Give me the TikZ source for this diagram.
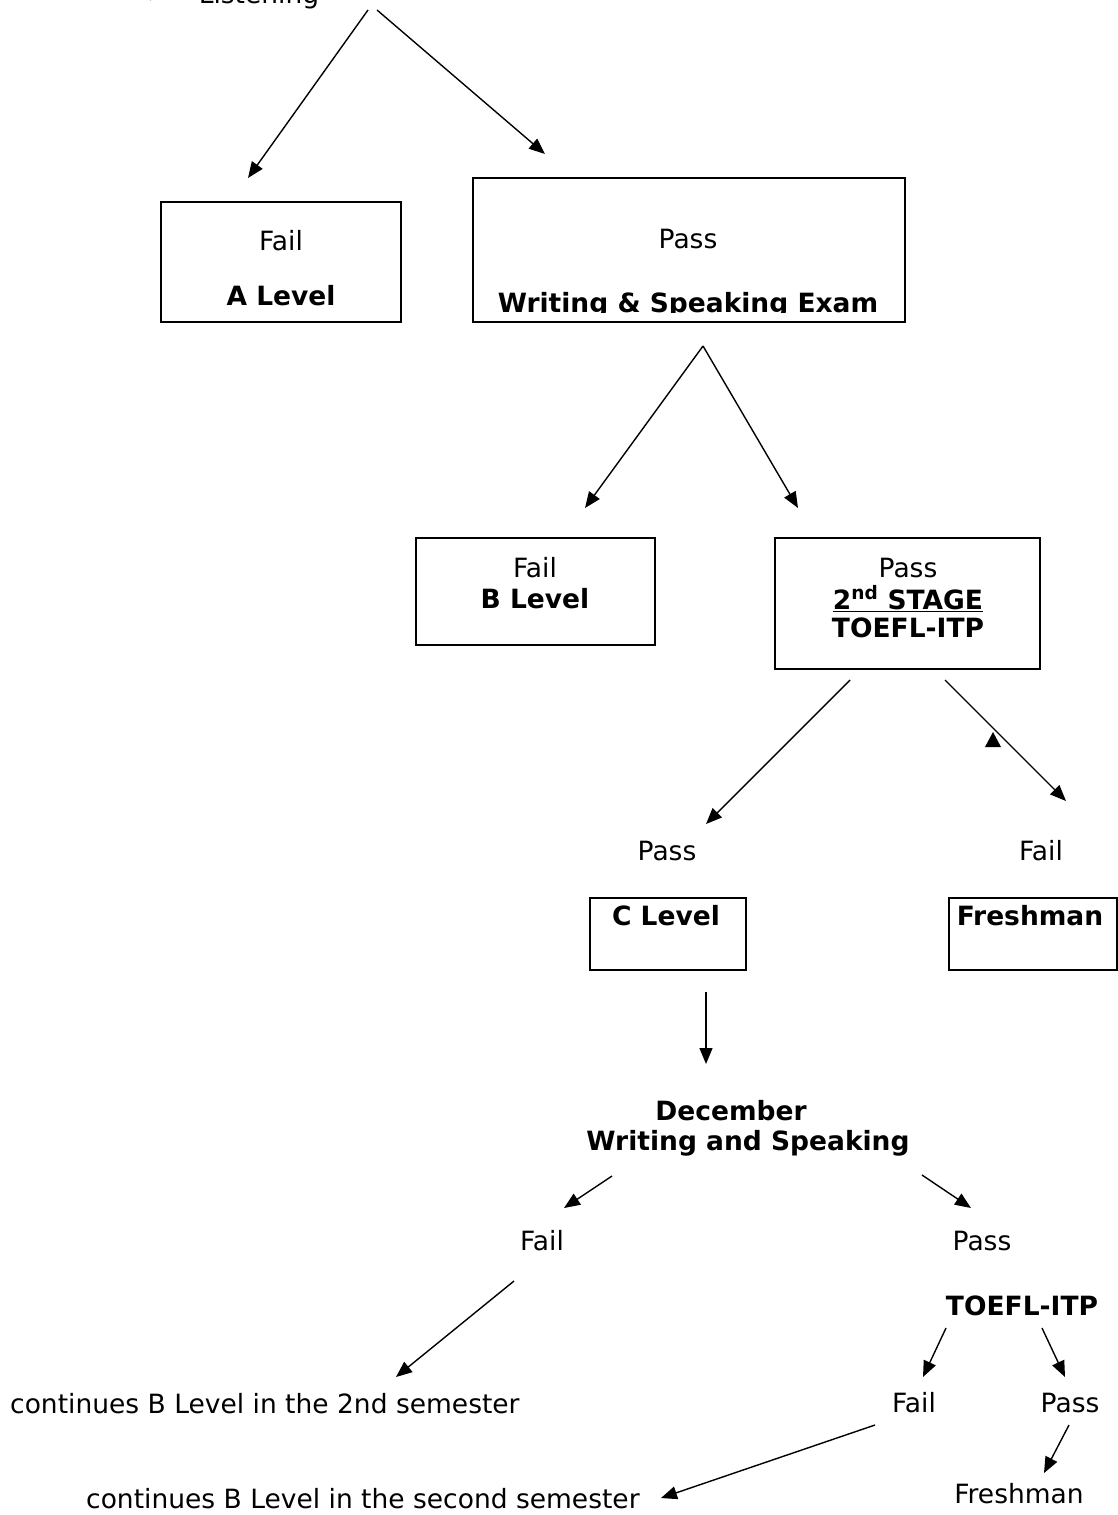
\documentclass[tikz,border=0pt]{standalone}
\usepackage{fontspec}
\setmainfont{DejaVu Sans}
\usetikzlibrary{arrows.meta}
\begin{document}
\begin{tikzpicture}[x=1pt,y=-1pt,
  lbl/.style={anchor=base,inner sep=0pt,font=\fontsize{26.5}{31}\selectfont},
  blbl/.style={anchor=base,inner sep=0pt,font=\fontsize{26.5}{31}\selectfont\bfseries},
  boxr/.style={draw,line width=1.3pt,inner sep=0pt},
  conn/.style={line width=1.4pt,-{Triangle[length=16pt,width=13pt]}}]
\useasboundingbox (0,0) rectangle (1118,1515);
\fill[white] (0,0) rectangle (1118,1515);

% top (cut off) item
\begin{scope}
\clip (0,0) rectangle (1118,1515);
\node[lbl] (bullet) at (158,4) {➢};
\node[lbl] (listen) at (259,4) {Listening};
\end{scope}

% first level boxes
\node[boxr,minimum width=240pt,minimum height=120pt] (boxA) at (281,262) {};
\node[lbl] (failA) at (281,250) {Fail};
\node[blbl] (levA) at (281,305) {A Level};

\node[boxr,minimum width=432pt,minimum height=144pt] (boxP) at (689,250) {};
\node[lbl] (passP) at (688,248) {Pass};
\begin{scope}
\clip (473,178) rectangle (905,312.5);
\node[blbl] (wse) at (688,312) {Writing \& Speaking Exam};
\end{scope}

\coordinate (t0a) at (368,10);
\coordinate (t0b) at (377,10);
\coordinate (t1a) at (248,178);
\coordinate (t1b) at (545,154);
\draw[conn] (t0a) -- (t1a);
\draw[conn] (t0b) -- (t1b);

% second level
\coordinate (m0) at (703,346);
\coordinate (m1a) at (585,508);
\coordinate (m1b) at (798,508);
\draw[conn] (m0) -- (m1a);
\draw[conn] (m0) -- (m1b);

\node[boxr,minimum width=239pt,minimum height=107pt] (boxB) at (535.5,591.5) {};
\node[lbl] (failB) at (535,577) {Fail};
\node[blbl] (levB) at (535,608) {B Level};

\node[boxr,minimum width=265pt,minimum height=131pt] (boxS) at (907.5,603.5) {};
\node[lbl] (passS) at (908,577) {Pass};
\node[blbl] (stage) at (908,609) {\underline{2\textsuperscript{nd} STAGE}};
\node[blbl] (toefl) at (908,637) {TOEFL-ITP};

% third level
\coordinate (s0a) at (850,680);
\coordinate (s1a) at (706,824);
\coordinate (s0b) at (945,680);
\coordinate (s1b) at (1066,801);
\draw[conn] (s0a) -- (s1a);
\draw[conn] (s0b) -- (s1b);
\fill (985,747) -- (1001,747) -- (993,732) -- cycle;

\node[lbl] (passC) at (667,860) {Pass};
\node[lbl] (failF) at (1041,860) {Fail};

\node[boxr,minimum width=156pt,minimum height=72pt] (boxC) at (668,934) {};
\node[blbl] (levC) at (666,925) {C Level};
\node[boxr,minimum width=168pt,minimum height=72pt] (boxF) at (1033,934) {};
\node[blbl] (fresh1) at (1030,925) {Freshman};

\coordinate (c0) at (706,992);
\coordinate (c1) at (706,1064);
\draw[conn] (c0) -- (c1);

% December
\node[blbl] (dec) at (731,1120) {December};
\node[blbl] (dws) at (748,1150) {Writing and Speaking};

\coordinate (d0a) at (612,1176);
\coordinate (d1a) at (564,1208);
\coordinate (d0b) at (922,1175);
\coordinate (d1b) at (971,1208);
\draw[conn] (d0a) -- (d1a);
\draw[conn] (d0b) -- (d1b);

\node[lbl] (failD) at (542,1250) {Fail};
\node[lbl] (passD) at (982,1250) {Pass};

\coordinate (e0) at (514,1281);
\coordinate (e1) at (396,1377);
\draw[conn] (e0) -- (e1);
\node[lbl,anchor=base west] (cont1) at (10,1413) {continues B Level in the 2nd semester};

\node[blbl] (toefl2) at (1022,1315) {TOEFL-ITP};
\coordinate (f0a) at (946,1328);
\coordinate (f1a) at (923,1377);
\coordinate (f0b) at (1042,1328);
\coordinate (f1b) at (1065,1377);
\draw[conn] (f0a) -- (f1a);
\draw[conn] (f0b) -- (f1b);

\node[lbl] (failE) at (914,1412) {Fail};
\node[lbl] (passE) at (1070,1412) {Pass};

\coordinate (g0) at (875,1425);
\coordinate (g1) at (661,1498);
\draw[conn] (g0) -- (g1);
\coordinate (h0) at (1069,1425);
\coordinate (h1) at (1044,1473);
\draw[conn] (h0) -- (h1);

\node[lbl,anchor=base west] (cont2) at (86,1508) {continues B Level in the second semester};
\node[lbl] (fresh2) at (1019,1503) {Freshman};
\end{tikzpicture}
\end{document}
